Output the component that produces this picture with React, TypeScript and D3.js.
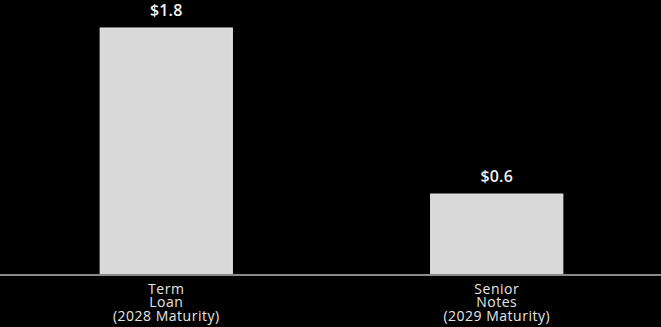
import React from "react";
import * as d3 from "d3";

const categories: string[][] = [
  ["Term", "Loan", "(2028 Maturity)"],
  ["Senior", "Notes", "(2029 Maturity)"],
];
const values: number[] = [1.8, 0.59];
const valueLabels: string[] = ["$1.8", "$0.6"];

const W = 661;
const H = 327;
const baseY = 275;
const topY = 28;
const FONT = "'Open Sans', 'Noto Sans', sans-serif";

export default function App() {
  const x = d3
    .scaleBand<number>()
    .domain(values.map((_, i) => i))
    .range([1, W + 1])
    .paddingInner(0.6)
    .paddingOuter(0.3);
  const y = d3.scaleLinear().domain([0, 1.8]).range([baseY, topY]);

  return (
    <svg
      width={W}
      height={H}
      style={{ position: "fixed", left: 0, top: 0, display: "block", background: "#000" }}
    >
      <rect x={0} y={0} width={W} height={H} fill="#000" />
      {values.map((v, i) => {
        const bx = x(i)!;
        const cx = bx + x.bandwidth() / 2;
        return (
          <g key={i}>
            <rect
              x={bx}
              y={y(v)}
              width={x.bandwidth()}
              height={baseY - y(v)}
              fill="#d9d9d9"
              stroke="#e8e8e8"
              strokeWidth={1}
            />
            <text
              x={cx}
              y={y(v) - 12}
              textAnchor="middle"
              fill="#f2f2f2"
              fontFamily={FONT}
              fontSize={16}
              fontWeight={600}
              letterSpacing={0.2}
            >
              {valueLabels[i]}
            </text>
            <text
              textAnchor="middle"
              fill="#e6e6e6"
              fontFamily={FONT}
              fontSize={14}
              letterSpacing={0.5}
            >
              {categories[i].map((line, j) => (
                <tspan key={j} x={cx} y={294 + j * 13.3}>
                  {line}
                </tspan>
              ))}
            </text>
          </g>
        );
      })}
      <line x1={0} x2={W} y1={baseY} y2={baseY} stroke="#8a8a8a" strokeWidth={2} />
    </svg>
  );
}
